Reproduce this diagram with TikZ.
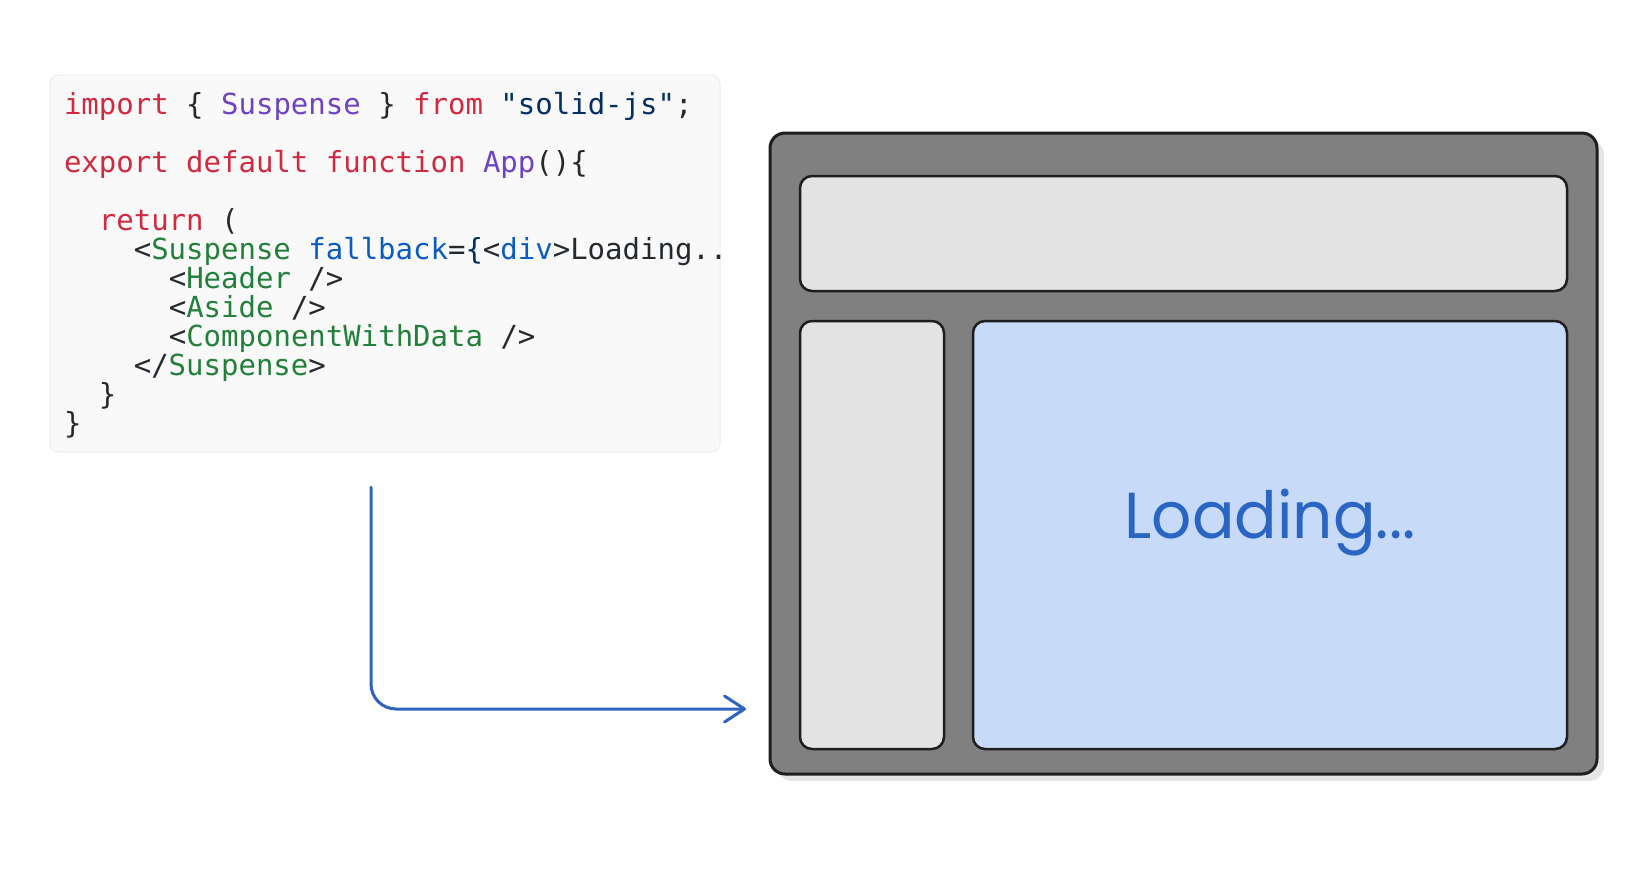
\documentclass[tikz,border=0pt]{standalone}
\usepackage{fontspec}
\usepackage{xcolor}
\usepackage{graphicx}
\setmonofont{DejaVu Sans Mono}
\newfontfamily\handfont{Poppins}
\usetikzlibrary{arrows.meta}
\definecolor{kw}{HTML}{CF2A3F}
\definecolor{ent}{HTML}{6F42C1}
\definecolor{str}{HTML}{032F62}
\definecolor{tagc}{HTML}{22803A}
\definecolor{attr}{HTML}{0B5CC0}
\definecolor{txt}{HTML}{24292E}
\definecolor{codebg}{HTML}{F9F9F9}
\definecolor{codeborder}{HTML}{EDEDED}
\definecolor{wingray}{HTML}{808080}
\definecolor{panel}{HTML}{E3E3E3}
\definecolor{mainblue}{HTML}{C7DBF9}
\definecolor{ink}{HTML}{1E1E1E}
\definecolor{arrowblue}{HTML}{2F63BD}
\definecolor{loadblue}{HTML}{2B65C3}
\definecolor{shadowc}{HTML}{E6E6E6}
\newcommand\codefont{\fontsize{29}{29}\selectfont\ttfamily}
\begin{document}
\begin{tikzpicture}[x=1pt,y=-1pt,
  codeline/.style={anchor=base west,inner sep=0pt,outer sep=0pt,font=\codefont,text=txt},
  boxbase/.style={anchor=north west,inner sep=0pt,outer sep=0pt},
  winbox/.style={boxbase,draw=ink,line width=3pt,fill=wingray,rounded corners=15pt},
  panelbox/.style={boxbase,draw=ink,line width=2.5pt,rounded corners=12pt},
  arr/.style={draw=arrowblue,line width=3pt,line cap=round,line join=round,rounded corners=25pt,
    -{Straight Barb[length=20pt,width=26pt,line cap=round,line join=round]}}
]
\useasboundingbox (0,0) rectangle (1626,870);
\fill[white] (0,0) rectangle (1626,870);

% code block
\node[boxbase,fill=codebg,draw=codeborder,line width=1pt,rounded corners=9pt,
  minimum width=670pt,minimum height=377pt] (code) at (50,75) {};
\begin{scope}
\clip (50,75) rectangle (720,452);
\node[codeline] (l0) at (64,114) {\textcolor{kw}{import} \{ \textcolor{ent}{Suspense} \} \textcolor{kw}{from} \textcolor{str}{"solid-js"};};
\node[codeline] (l2) at (64,172.1) {\textcolor{kw}{export default function} \textcolor{ent}{App}()\{};
\node[codeline] (l4) at (98.9,230.2) {\textcolor{kw}{return} (};
\node[codeline] (l5) at (133.8,259.2) {<\textcolor{tagc}{Suspense} \textcolor{attr}{fallback}=\textcolor{str}{\{}<\textcolor{attr}{div}>Loading..};
\node[codeline] (l6) at (168.8,288.2) {<\textcolor{tagc}{Header} />};
\node[codeline] (l7) at (168.8,317.3) {<\textcolor{tagc}{Aside} />};
\node[codeline] (l8) at (168.8,346.3) {<\textcolor{tagc}{ComponentWithData} />};
\node[codeline] (l9) at (133.8,375.4) {</\textcolor{tagc}{Suspense}>};
\node[codeline] (l10) at (98.9,404.4) {\}};
\node[codeline] (l11) at (64,433.4) {\}};
\end{scope}

% browser window
\fill[shadowc,rounded corners=15pt] (777,140) rectangle (1604,781);
\node[winbox,minimum width=827pt,minimum height=641pt] (win) at (770,133) {};
\node[panelbox,fill=panel,minimum width=767pt,minimum height=115pt] (header) at (800,176) {};
\node[panelbox,fill=panel,minimum width=144pt,minimum height=428pt] (aside) at (800,321) {};
\node[panelbox,fill=mainblue,minimum width=594pt,minimum height=428pt] (main) at (973,321) {};
\node[anchor=base,inner sep=0pt,text=loadblue] (loading) at (main.center |- 0,538)
  {\resizebox{291pt}{49.5pt}{\handfont Loading...}};

% connector
\coordinate (astart) at (371,487);
\coordinate (aend) at (746,709);
\draw[arr] (astart) |- (aend);
\end{tikzpicture}
\end{document}
